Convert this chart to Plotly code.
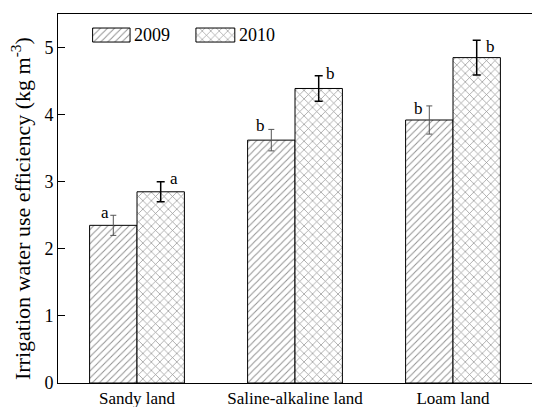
import plotly.graph_objects as go

# Irrigation water use efficiency by soil type and year
categories = ["Sandy land", "Saline-alkaline land", "Loam land"]
iwue_2009 = [2.35, 3.62, 3.92]
iwue_2010 = [2.85, 4.39, 4.85]
err_2009 = [0.15, 0.16, 0.21]
err_2010 = [0.15, 0.19, 0.26]
letters_2009 = ["a", "b", "b"]
letters_2010 = ["a", "b", "b"]
years = ["2009", "2010"]

SERIF = "Liberation Serif"

fig = go.Figure()

fig.add_trace(go.Bar(
    x=categories, y=iwue_2009, name=years[0], offsetgroup="a",
    marker=dict(color="white", line=dict(color="black", width=1),
                pattern=dict(shape="/", fgcolor="#222222", bgcolor="white",
                             size=5, solidity=0.2)),
    error_y=dict(type="data", array=err_2009, color="#555555",
                 thickness=1, width=3),
    showlegend=False,
))
fig.add_trace(go.Bar(
    x=categories, y=iwue_2010, name=years[1], offsetgroup="b",
    marker=dict(color="white", line=dict(color="black", width=1),
                pattern=dict(shape="x", fgcolor="#222222", bgcolor="white",
                             size=6, solidity=0.22)),
    error_y=dict(type="data", array=err_2010, color="black",
                 thickness=1.5, width=4),
    showlegend=False,
))

# Significance letters beside the error bar caps (pixel offsets per label)
shift_x_2009 = [-32, -35, -35]
shift_y_2009 = [3, 4, -3]
shift_x_2010 = [37, 35, 37]
shift_y_2010 = [3, 2, -6]
for i, cat in enumerate(categories):
    fig.add_annotation(x=cat, y=iwue_2009[i] + err_2009[i], text=letters_2009[i],
                       showarrow=False, xshift=shift_x_2009[i], yshift=shift_y_2009[i],
                       font=dict(family=SERIF, size=17, color="black"))
    fig.add_annotation(x=cat, y=iwue_2010[i] + err_2010[i], text=letters_2010[i],
                       showarrow=False, xshift=shift_x_2010[i], yshift=shift_y_2010[i],
                       font=dict(family=SERIF, size=17, color="black"))

# Legend swatches drawn as patterned bars on an overlay axis in paper units
swatch_x = [0.1125, 0.332]
swatch_w = [0.079, 0.082]
swatch_shapes = ["/", "x"]
swatch_sizes = [5, 6]
for k in range(2):
    fig.add_trace(go.Bar(
        x=[swatch_x[k]], y=[0.038], base=[0.924], width=[swatch_w[k]],
        xaxis="x2", yaxis="y2", showlegend=False, hoverinfo="skip",
        marker=dict(color="white", line=dict(color="black", width=1),
                    pattern=dict(shape=swatch_shapes[k], fgcolor="#222222",
                                 bgcolor="white", size=swatch_sizes[k],
                                 solidity=0.2)),
    ))
    fig.add_annotation(xref="paper", yref="paper",
                       x=swatch_x[k] + swatch_w[k] / 2 + 0.005, y=0.943,
                       xanchor="left", yanchor="middle", text=years[k],
                       showarrow=False,
                       font=dict(family=SERIF, size=18, color="black"))

# Y-axis title
fig.add_annotation(xref="paper", yref="paper", x=-0.078, y=0.4715,
                   xanchor="center", yanchor="middle", textangle=-90,
                   text="Irrigation water use efficiency (kg m<sup>-3</sup>)",
                   showarrow=False,
                   font=dict(family=SERIF, size=22, color="black"))

fig.update_layout(
    width=533, height=407,
    margin=dict(l=58, r=1, t=14, b=24),
    paper_bgcolor="white", plot_bgcolor="white",
    barmode="group", bargap=0.4, bargroupgap=0,
    font=dict(family=SERIF, size=17, color="black"),
    xaxis=dict(showline=True, linecolor="black", linewidth=1, mirror=True,
               ticks="", showgrid=False, zeroline=False, automargin=False,
               tickfont=dict(family=SERIF, size=17)),
    yaxis=dict(range=[0, 5.5], showline=True, linecolor="black", linewidth=1,
               mirror=False, ticks="inside", ticklen=7, tickcolor="black",
               tickvals=[0, 1, 2, 3, 4, 5], showgrid=False, zeroline=False,
               automargin=False, tickfont=dict(family=SERIF, size=18)),
    xaxis2=dict(overlaying="x", range=[0, 1], visible=False, anchor="y2"),
    yaxis2=dict(overlaying="y", range=[0, 1], visible=False, anchor="x2"),
)

fig.write_html("out.html")
